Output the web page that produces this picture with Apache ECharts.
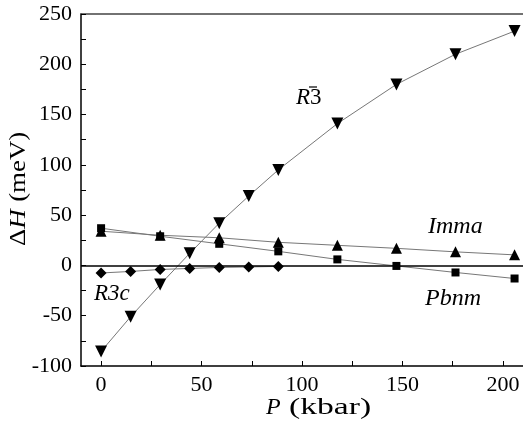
<!DOCTYPE html>
<html lang="en">
<head>
    <meta charset="UTF-8">
    <title>Enthalpy vs pressure</title>
    <script src="https://cdn.jsdelivr.net/npm/echarts@6/dist/echarts.min.js"></script>
    <style>
        html, body { margin: 0; padding: 0; background: #fff; }
        #chart { width: 523px; height: 425px; }
    </style>
</head>
<body>
    <div id="chart"></div>
    <script>
        // pressure points (kbar)
        var p_r3 = [0, 14.7, 29.4, 44.1, 58.8, 73.5, 88.2, 117.6, 147, 176.4, 205.8];
        var p_ortho = [0, 29.4, 58.8, 88.2, 117.6, 147, 176.4, 205.8];
        var p_r3c = [0, 14.7, 29.4, 44.1, 58.8, 73.5, 88.2];

        // enthalpy differences (meV)
        var dh_r3 = [-85.5, -51, -19, 12, 42, 69, 95, 141, 180, 210, 233];
        var dh_imma = [34, 30, 27.5, 23, 20, 17, 13.5, 10.5];
        var dh_pbnm = [37, 29, 21.5, 14, 6, -0.5, -7, -13];
        var dh_r3c = [-7.5, -6, -4, -3, -2, -1.5, -1];

        var x_ticks = [0, 25, 50, 75, 100, 125, 150, 175, 200];
        var x_labels = [0, 50, 100, 150, 200];

        var serif = 'Liberation Serif';

        function pairs (xs, ys) {
            var out = [];
            for (var i = 0; i < xs.length; i++) out.push([xs[i], ys[i]]);
            return out;
        }

        function make_series (name, xs, ys, symbol, size, rotate) {
            return {
                name: name,
                type: 'line',
                data: pairs(xs, ys),
                symbol: symbol,
                symbolSize: size,
                symbolRotate: rotate || 0,
                showSymbol: true,
                animation: false,
                itemStyle: { color: '#000' },
                lineStyle: { color: '#777', width: 1 },
                z: 3
            };
        }

        var chart = echarts.init(document.getElementById('chart'), null, { renderer: 'canvas' });

        var r3_series = make_series('R-3', p_r3, dh_r3, 'triangle', 12, 180);
        var imma_series = make_series('Imma', p_ortho, dh_imma, 'triangle', 11);
        var pbnm_series = make_series('Pbnm', p_ortho, dh_pbnm, 'rect', 8);
        var r3c_series = make_series('R3c', p_r3c, dh_r3c, 'diamond', [11, 11]);
        // zero line
        r3c_series.markLine = {
            silent: true,
            symbol: 'none',
            label: { show: false },
            lineStyle: { color: '#000', width: 1.5, type: 'solid' },
            data: [{ yAxis: 0 }]
        };

        function rich_title () {
            return {
                i: { fontFamily: serif, fontStyle: 'italic', fontSize: 24, fill: '#000' },
                n: { fontFamily: serif, fontSize: 24, fill: '#000' }
            };
        }

        var option = {
            animation: false,
            backgroundColor: '#fff',
            grid: { left: 81, right: 0, top: 14, bottom: 59, containLabel: false },
            xAxis: [{
                type: 'value',
                min: -10,
                max: 210,
                splitLine: { show: false },
                axisLine: { onZero: false, lineStyle: { color: '#000', width: 1.5 } },
                axisTick: { inside: true, length: 5, customValues: x_ticks, lineStyle: { color: '#000' } },
                axisLabel: { customValues: x_labels, color: '#000', fontFamily: serif, fontSize: 22, margin: 8 }
            }, {
                type: 'value',
                position: 'top',
                min: -10,
                max: 210,
                splitLine: { show: false },
                axisLine: { show: true, onZero: false, lineStyle: { color: '#444', width: 1.5 } },
                axisTick: { show: false },
                axisLabel: { show: false }
            }],
            yAxis: {
                type: 'value',
                min: -100,
                max: 250,
                interval: 50,
                splitLine: { show: false },
                axisLine: { show: true, onZero: false, lineStyle: { color: '#000', width: 1.5 } },
                axisTick: { inside: true, length: 5, lineStyle: { color: '#000' } },
                minorTick: { show: true, splitNumber: 2, length: 5, lineStyle: { color: '#000' } },
                axisLabel: { color: '#000', fontFamily: serif, fontSize: 22, margin: 9 }
            },
            series: [imma_series, pbnm_series, r3c_series, r3_series],
            graphic: [
                {
                    type: 'text', left: 296, top: 86,
                    style: {
                        text: '{i|R}{n|3}',
                        rich: {
                            i: { fontFamily: serif, fontStyle: 'italic', fontSize: 23, fill: '#000' },
                            n: { fontFamily: serif, fontSize: 23, fill: '#000' }
                        }
                    }
                },
                { type: 'line', z: 10, shape: { x1: 309, y1: 87, x2: 317, y2: 87 }, style: { stroke: '#000', lineWidth: 1.2 } },
                { type: 'text', left: 428, top: 215, style: { text: 'Imma', fontFamily: serif, fontStyle: 'italic', fontSize: 24, fill: '#000' } },
                { type: 'text', left: 425, top: 287, style: { text: 'Pbnm', fontFamily: serif, fontStyle: 'italic', fontSize: 24, fill: '#000' } },
                { type: 'text', left: 94, top: 282, style: { text: 'R3c', fontFamily: serif, fontStyle: 'italic', fontSize: 23, fill: '#000' } },
                // x axis title
                {
                    type: 'text', x: 266, y: 396,
                    style: { text: 'P', fontFamily: serif, fontStyle: 'italic', fontSize: 24, fill: '#000', verticalAlign: 'top' }
                },
                {
                    type: 'text', x: 289, y: 396, scaleX: 1.4,
                    style: { text: '(kbar)', fontFamily: serif, fontSize: 24, fill: '#000', verticalAlign: 'top' }
                },
                // y axis title
                {
                    type: 'text', x: 7, y: 246, rotation: Math.PI / 2, scaleX: 1.12,
                    style: { text: '{n|Δ}{i|H}  {n|(meV)}', rich: rich_title() }
                }
            ]
        };

        chart.setOption(option);
    </script>
</body>
</html>
